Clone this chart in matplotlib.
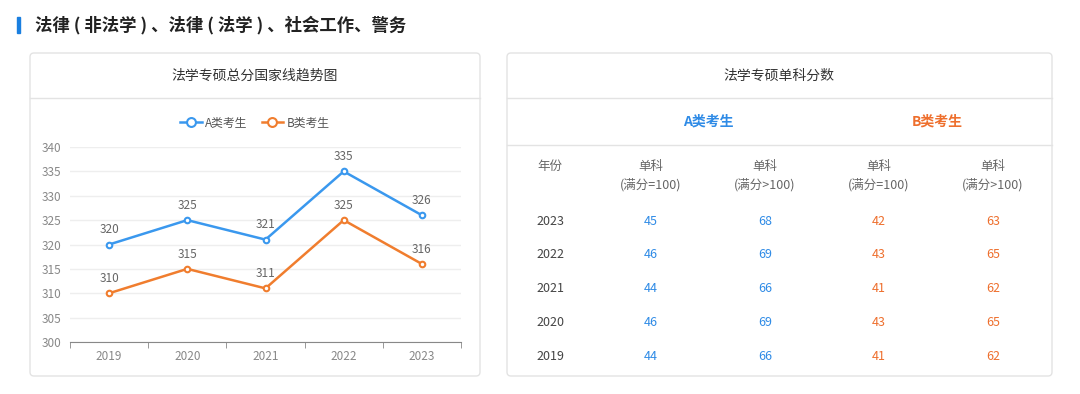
import matplotlib
matplotlib.use("Agg")
import matplotlib.pyplot as plt
from matplotlib.patches import FancyBboxPatch, Rectangle

plt.rcParams['font.family'] = ['Noto Sans CJK SC', 'DejaVu Sans']

years = [2019, 2020, 2021, 2022, 2023]
score_a = [320, 325, 321, 335, 326]
score_b = [310, 315, 311, 325, 316]

table_years = [2023, 2022, 2021, 2020, 2019]
a_eq100 = [45, 46, 44, 46, 44]
a_gt100 = [68, 69, 66, 69, 66]
b_eq100 = [42, 43, 41, 43, 41]
b_gt100 = [63, 65, 62, 65, 62]

BLUE = '#3a98ee'
ORANGE = '#f07d2e'
TBLUE = '#2f8be6'
TORANGE = '#ee6f2d'
GREY = '#666666'

W, H = 1080, 394
fig = plt.figure(figsize=(W / 100, H / 100), dpi=100)
bg = fig.add_axes([0, 0, 1, 1])
bg.set_xlim(0, W)
bg.set_ylim(H, 0)
bg.axis('off')

# page title
bg.add_patch(Rectangle((17, 17), 3, 16, color='#1a7fe0'))
bg.text(35, 25, '法律 ( 非法学 ) 、法律 ( 法学 ) 、社会工作、警务', fontsize=12.5,
        fontweight='bold', va='center', ha='left', color='#222222')

# cards
for x0, x1 in [(30, 480), (507, 1052)]:
    bg.add_patch(FancyBboxPatch((x0, 53), x1 - x0, 323,
                                boxstyle='round,pad=0,rounding_size=4',
                                fc='white', ec='#e3e3e3', lw=1))
    bg.plot([x0, x1], [98, 98], color='#e3e3e3', lw=1)

bg.text(255, 76, '法学专硕总分国家线趋势图', fontsize=10, ha='center', va='center', color='#333333')
bg.text(779, 76, '法学专硕单科分数', fontsize=10, ha='center', va='center', color='#333333')

# table
bg.plot([507, 1052], [145, 145], color='#e3e3e3', lw=1)
bg.text(708, 122, 'A类考生', fontsize=10, fontweight='bold', ha='center', va='center', color=TBLUE)
bg.text(937, 122, 'B类考生', fontsize=10, fontweight='bold', ha='center', va='center', color=TORANGE)

cols = [651, 765, 879, 993]
subs = ['(满分=100)', '(满分>100)', '(满分=100)', '(满分>100)']
bg.text(550, 166, '年份', fontsize=9, ha='center', va='center', color=GREY)
for cx, s in zip(cols, subs):
    bg.text(cx, 166, '单科', fontsize=9, ha='center', va='center', color=GREY)
    bg.text(cx, 185, s, fontsize=9, ha='center', va='center', color=GREY)

row_y = [221, 255, 289, 323, 356]
for i, yr in enumerate(table_years):
    y = row_y[i]
    bg.text(550, y, str(yr), fontsize=9, ha='center', va='center', color='#444444')
    vals = [a_eq100[i], a_gt100[i], b_eq100[i], b_gt100[i]]
    colors = [TBLUE, TBLUE, TORANGE, TORANGE]
    for cx, v, c in zip(cols, vals, colors):
        bg.text(cx, y, str(v), fontsize=9, ha='center', va='center', color=c)

# line chart
ax = fig.add_axes([70 / W, (H - 342) / H, (461 - 70) / W, (342 - 147) / H])
x = list(range(len(years)))
ax.plot(x, score_a, color=BLUE, lw=1.8, marker='o', ms=4, mfc='white', mec=BLUE, mew=1.5,
        label='A类考生')
ax.plot(x, score_b, color=ORANGE, lw=1.8, marker='o', ms=4, mfc='white', mec=ORANGE, mew=1.5,
        label='B类考生')
for xi, a, b in zip(x, score_a, score_b):
    ax.annotate(str(a), (xi, a), xytext=(0, 6), textcoords='offset points',
                ha='center', va='bottom', fontsize=8.5, color=GREY)
    ax.annotate(str(b), (xi, b), xytext=(0, 6), textcoords='offset points',
                ha='center', va='bottom', fontsize=8.5, color=GREY)

ax.set_xlim(-0.5, len(years) - 0.5)
ax.set_ylim(300, 340)
ax.set_yticks(range(300, 341, 5))
ax.set_xticks(x)
ax.set_xticklabels([str(y) for y in years])
ax.set_xticks([i - 0.5 for i in range(len(years) + 1)], minor=True)
ax.grid(axis='y', color='#eeeeee', lw=1)
ax.set_axisbelow(True)
for s in ['top', 'right', 'left']:
    ax.spines[s].set_visible(False)
ax.spines['bottom'].set_color('#888888')
ax.tick_params(axis='y', length=0, labelsize=8.5, labelcolor='#888888', pad=6)
ax.tick_params(axis='x', which='major', length=0, labelsize=8.5, labelcolor='#888888', pad=6)
ax.tick_params(axis='x', which='minor', length=4, color='#888888')
ax.patch.set_alpha(0)

leg = fig.legend(loc='center', bbox_to_anchor=(255 / W, (H - 123) / H), ncol=2, frameon=False,
                 fontsize=8.5, handlelength=1.8, columnspacing=1.2, handletextpad=0.3,
                 markerscale=1.6, labelcolor='#555555')

fig.savefig('out.png', dpi=100, facecolor='white')
